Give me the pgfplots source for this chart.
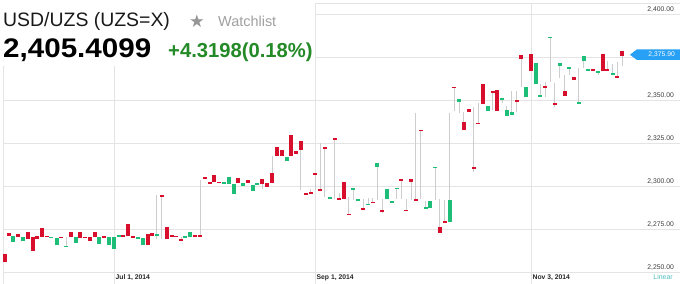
\documentclass[border=0pt]{standalone}
\usepackage{pgfplots}
\pgfplotsset{compat=1.18}
\usepackage{pgfplotstable}
\usepackage{fontspec}
\setmainfont{Liberation Sans}
\newfontfamily\dejavu{DejaVu Sans}
\newfontfamily\widefont[FakeStretch=1.1]{Liberation Sans}
\definecolor{candlered}{RGB}{215,15,45}
\definecolor{candlegreen}{RGB}{30,190,120}
\definecolor{wickgray}{RGB}{205,205,205}
\definecolor{gridgray}{RGB}{228,228,228}
\definecolor{labgray}{RGB}{60,60,60}
\definecolor{chgreen}{RGB}{36,138,40}
\definecolor{stargray}{RGB}{150,150,150}
\definecolor{watchgray}{RGB}{160,160,160}
\definecolor{pricebox}{RGB}{40,160,245}
\definecolor{linteal}{RGB}{80,190,190}

\pgfplotstableread{
x top bot hi lo
4.7 2260.5 2255.8 2260.5 2255.8
8.7 2272.5 2270.9 2272.5 2270.9
18 2272.3 2270.2 2272.3 2270.2
27.7 2273.1 2269.0 2273.1 2269.0
32.7 2270.2 2262.0 2270.2 2262.0
37 2270.9 2269.4 2270.9 2269.4
42 2275.4 2270.2 2275.4 2270.2
46.7 2271.1 2270.2 2271.1 2270.2
61 2270.5 2269.8 2270.5 2269.8
70.7 2273.3 2270.2 2273.3 2270.2
80.3 2273.1 2269.8 2273.1 2269.8
85.3 2270.6 2269.8 2270.6 2269.8
90 2270.2 2268.2 2270.2 2268.2
95 2273.3 2270.2 2273.3 2270.2
104.3 2270.9 2270.1 2270.9 2270.1
123.3 2271.7 2270.5 2271.7 2270.5
128 2278.2 2271.2 2278.2 2271.2
132.7 2270.9 2270.1 2270.9 2270.1
147.7 2271.9 2265.5 2271.9 2265.5
152 2272.5 2270.9 2272.5 2270.9
161.7 2294.9 2294.0 2294.9 2269.0
166.7 2276.3 2269.0 2276.3 2269.0
171.7 2271.5 2270.2 2271.5 2270.2
176.3 2271.1 2270.2 2271.1 2270.2
181 2269.0 2268.1 2270.5 2268.1
195 2271.5 2270.5 2271.5 2270.5
200 2271.5 2270.5 2303.5 2270.5
205 2305.4 2303.9 2305.4 2303.9
209.7 2302.3 2301.5 2302.3 2301.5
214.3 2306.2 2302.2 2306.2 2302.2
219.3 2302.5 2301.7 2302.5 2301.7
238.3 2304.4 2301.6 2304.4 2301.6
248.2 2303.5 2301.6 2303.5 2301.6
262 2303.9 2300.9 2303.9 2298.4
267 2301.6 2299.3 2301.6 2299.3
272 2307.7 2301.6 2317.4 2301.6
276.7 2322.5 2317.6 2322.5 2317.6
281.7 2320.8 2317.2 2320.8 2317.2
291.2 2329.7 2317.7 2329.7 2317.7
295.8 2320.1 2318.9 2320.1 2318.9
300.7 2326.0 2320.9 2326.0 2297.7
305.7 2295.9 2295.0 2295.9 2295.0
310.5 2296.3 2295.4 2298.1 2295.4
315 2307.7 2306.8 2307.7 2297.7
320 2298.4 2297.5 2325.3 2297.5
324.8 2322.5 2321.6 2322.5 2293.6
334.5 2327.9 2326.9 2327.9 2292.3
339.2 2293.1 2292.2 2296.1 2292.2
343.7 2302.3 2292.7 2302.3 2292.7
348.7 2283.9 2283.0 2293.4 2283.0
363.3 2287.2 2286.0 2292.6 2286.0
372.7 2290.9 2290.0 2292.8 2290.0
382.3 2286.0 2284.6 2292.3 2284.6
401.3 2304.2 2303.3 2304.2 2292.7
406.2 2286.3 2285.4 2292.7 2285.4
411.2 2303.8 2302.6 2303.8 2291.9
415.8 2292.2 2291.3 2342.3 2291.3
420.7 2332.8 2331.9 2332.8 2292.4
439.7 2275.9 2272.5 2292.4 2272.5
444.5 2279.6 2278.2 2291.9 2278.2
454 2357.8 2356.9 2357.8 2343.8
463.8 2337.1 2332.7 2343.2 2332.7
468.7 2344.9 2342.8 2344.9 2342.8
473.5 2311.1 2310.2 2345.9 2308.0
478 2336.8 2335.9 2348.1 2335.9
482.8 2359.3 2347.7 2359.3 2347.7
492.5 2355.3 2354.4 2355.3 2343.9
497.3 2355.8 2343.8 2355.8 2343.8
516.5 2349.8 2348.9 2355.4 2343.2
521.3 2376.0 2374.0 2376.0 2357.7
530.8 2376.5 2366.6 2376.5 2366.6
545.3 2358.1 2357.2 2360.7 2351.6
554.8 2348.1 2347.2 2359.7 2345.8
564.5 2355.3 2352.3 2364.5 2352.3
574 2363.5 2361.8 2363.5 2361.8
593 2368.1 2367.2 2368.1 2367.2
602.8 2376.7 2367.0 2376.7 2367.0
607.3 2368.0 2366.9 2372.8 2366.9
617.2 2363.8 2362.9 2372.3 2362.9
622.2 2378.7 2375.4 2378.7 2369.8
}\redtab

\pgfplotstableread{
x top bot hi lo
13 2270.9 2267.6 2270.9 2267.6
22.7 2270.2 2268.2 2270.2 2268.2
51.3 2270.6 2269.7 2270.6 2269.7
56.7 2269.6 2265.5 2269.6 2265.5
66 2265.3 2264.4 2270.2 2264.4
75.7 2270.2 2266.7 2270.2 2266.7
99.3 2270.2 2266.3 2270.2 2266.3
109.3 2270.2 2265.5 2270.2 2265.5
114 2270.5 2263.4 2270.5 2263.4
118.7 2271.3 2270.2 2271.3 2270.2
137.7 2270.2 2269.0 2270.2 2269.0
142.7 2269.6 2265.7 2269.6 2265.7
156.7 2271.9 2271.0 2294.8 2269.0
185.3 2270.9 2270.1 2270.9 2270.1
190.3 2273.1 2270.5 2273.1 2270.5
224 2302.3 2301.5 2302.3 2301.5
228.8 2305.1 2300.9 2305.1 2300.9
233.7 2300.9 2295.1 2300.9 2295.1
243.3 2301.7 2300.0 2301.7 2300.0
252.7 2300.8 2297.3 2300.8 2297.3
257.3 2301.5 2300.5 2301.5 2300.5
286.7 2316.9 2314.5 2316.9 2314.5
329.5 2293.7 2292.9 2293.7 2292.9
353.3 2298.8 2297.9 2298.8 2292.0
358.2 2292.4 2291.5 2292.4 2291.5
368 2289.8 2288.9 2292.8 2288.9
377.3 2313.2 2310.9 2313.2 2291.6
387.2 2298.5 2292.3 2298.5 2292.3
391.8 2291.4 2290.5 2291.4 2290.5
396.8 2299.1 2298.2 2299.1 2292.4
425.5 2287.9 2286.9 2291.0 2286.9
430.2 2291.4 2287.5 2291.4 2287.5
435 2311.3 2310.4 2311.3 2291.6
449.8 2291.9 2278.8 2342.6 2278.8
459 2350.8 2348.7 2350.8 2342.6
487.8 2346.5 2343.8 2346.5 2343.8
502 2351.0 2350.0 2351.0 2348.0
506.7 2344.2 2340.6 2346.5 2340.6
511.7 2342.8 2341.3 2355.5 2341.3
526 2357.4 2351.9 2357.4 2351.9
535.8 2371.7 2359.3 2371.7 2359.3
540.3 2352.9 2351.7 2359.3 2351.7
550 2386.9 2386.0 2386.9 2360.2
559.5 2371.6 2369.9 2371.6 2362.6
569.2 2369.3 2368.4 2369.3 2364.5
578.7 2348.7 2347.8 2368.4 2347.8
583.7 2375.6 2372.8 2375.6 2368.4
588.3 2368.1 2367.2 2368.1 2367.2
598 2366.9 2365.9 2366.9 2364.5
612.5 2365.5 2364.6 2370.8 2364.6
}\greentab

\pgfplotsset{
  candlepart/.style n args={2}{draw=none, mark=none, forget plot,
    error bars/.cd, y dir=both, y explicit, error mark=none,
    error bar style={draw=#1, line width=#2, solid}},
}

\begin{document}
\begin{tikzpicture}
\begin{axis}[
  at={(3bp,0bp)}, anchor=south west,
  scale only axis, width=677bp, height=281bp,
  xmin=3, xmax=680, ymin=2243.02, ymax=2406.40,
  axis line style={draw=none},
  major tick length=0pt,
  tick style={draw=none},
  xtick={114,315,531},
  xticklabels={{Jul 1, 2014},{Sep 1, 2014},{Nov 3, 2014}},
  xmajorgrids, ymajorgrids,
  grid style={draw=gridgray, line width=0.9bp},
  ytick={2250,2275,2300,2325,2350,2375,2400},
  yticklabels={{2,250.00},{2,275.00},{2,300.00},{2,325.00},{2,350.00},{},{2,400.00}},
  yticklabel pos=right,
  yticklabel style={anchor=base east, inner sep=0pt, xshift=-6bp, yshift=2.3bp,
    font=\fontsize{6.8}{7}\selectfont, text=labgray},
  xticklabel style={anchor=base west, inner sep=0pt, xshift=1.5bp, yshift=5bp,
    font=\bfseries\fontsize{6.8}{7}\selectfont, text=black!85},
  clip=false,
]
\fill[white] (axis cs:-10,2410) rectangle (axis cs:315,2369.8);
\draw[gridgray, line width=0.9bp] (axis cs:3,2243.02) -- (axis cs:3,2369.8);
\draw[gridgray, line width=0.9bp] (axis cs:315,2406.4) -- (axis cs:680,2406.4);
% wicks
\addplot[candlepart={wickgray}{1bp}]
  table[x=x, y expr=(\thisrow{hi}+\thisrow{lo})/2, y error expr=(\thisrow{hi}-\thisrow{lo})/2] {\redtab};
\addplot[candlepart={wickgray}{1bp}]
  table[x=x, y expr=(\thisrow{hi}+\thisrow{lo})/2, y error expr=(\thisrow{hi}-\thisrow{lo})/2] {\greentab};
% bodies
\addplot[candlepart={candlered}{4bp}]
  table[x=x, y expr=(\thisrow{top}+\thisrow{bot})/2, y error expr=(\thisrow{top}-\thisrow{bot})/2] {\redtab};
\addplot[candlepart={candlegreen}{4bp}]
  table[x=x, y expr=(\thisrow{top}+\thisrow{bot})/2, y error expr=(\thisrow{top}-\thisrow{bot})/2] {\greentab};
\end{axis}
% header
\node[anchor=base west, inner sep=0pt, text={black!90}] at (3bp,257bp) {\fontsize{19.5}{20}\selectfont USD/UZS (UZS=X)};
\node[anchor=base west, inner sep=0pt, text=stargray] at (189bp,256.5bp) {\dejavu\fontsize{17.5}{17.5}\selectfont ★};
\node[anchor=base west, inner sep=0pt, text=watchgray] at (218bp,257bp) {\fontsize{14.5}{15}\selectfont Watchlist};
\node[anchor=base west, inner sep=0pt, text=black] at (3bp,226bp) {\widefont\bfseries\fontsize{27}{28}\selectfont 2,405.4099};
\node[anchor=base west, inner sep=0pt, text=chgreen] at (168bp,226bp) {\bfseries\fontsize{20.3}{21}\selectfont +4.3198(0.18\%)};
% price tag
\fill[pricebox] (630bp,229.3bp) -- (637bp,234.7bp) -- (680bp,234.7bp) -- (680bp,224bp) -- (637bp,224bp) -- cycle;
\node[anchor=east, inner sep=0pt, text=white] at (675bp,229.3bp) {\fontsize{6.8}{7}\selectfont 2,375.90};
\node[anchor=base east, inner sep=0pt, text=linteal] at (673bp,4.5bp) {\fontsize{7}{7}\selectfont Linear};
\pgfresetboundingbox
\path (0,0) rectangle (680bp,284bp);
\end{tikzpicture}
\end{document}
